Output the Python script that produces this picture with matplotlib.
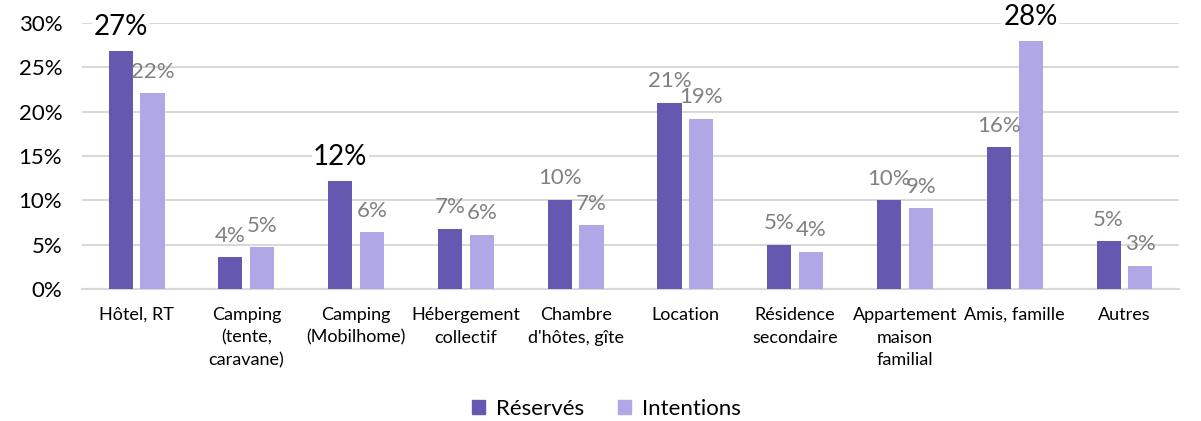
import numpy as np
import matplotlib.pyplot as plt
from matplotlib.patches import Patch

# Hébergement : réservés vs intentions
categories = ["Hôtel, RT", "Camping\n(tente,\ncaravane)", "Camping\n(Mobilhome)",
              "Hébergement\ncollectif", "Chambre\nd'hôtes, gîte", "Location",
              "Résidence\nsecondaire", "Appartement\nmaison\nfamilial",
              "Amis, famille", "Autres"]
reserves = [26.9, 3.6, 12.2, 6.8, 10.1, 21.0, 5.0, 10.0, 16.0, 5.4]
intentions = [22.1, 4.7, 6.4, 6.1, 7.2, 19.2, 4.2, 9.1, 28.0, 2.6]
yticks = [0, 5, 10, 15, 20, 25, 30]

# valeurs mises en avant (grand label noir)
highlight_res = [True, False, True, False, False, False, False, False, False, False]
highlight_int = [False, False, False, False, False, False, False, False, True, False]

C_RES = "#6558b1"
C_INT = "#b0a8e6"
GREY = "#808080"

plt.rcParams["font.family"] = ["Lato", "DejaVu Sans"]

fig = plt.figure(figsize=(12.01, 4.21), dpi=100)
ax = fig.add_axes([0.068, 0.3135, 0.914, 0.6315])

x = np.arange(len(categories))
w = 0.22
off = 0.145

ax.bar(x - off, reserves, w, color=C_RES, zorder=3)
ax.bar(x + off, intentions, w, color=C_INT, zorder=3)

def label(xpos, val, big):
    if big:
        ax.text(xpos, val + 1.2, f"{round(val)}%", ha="center", va="bottom",
                fontsize=20, color="black", zorder=5,
                bbox=dict(facecolor="white", edgecolor="none", pad=1))
    else:
        ax.text(xpos, val + 1.3, f"{round(val)}%", ha="center", va="bottom",
                fontsize=16, color=GREY, zorder=5)

for i in range(len(categories)):
    label(x[i] - off, reserves[i], highlight_res[i])
    label(x[i] + off, intentions[i], highlight_int[i])

ax.set_xlim(-0.5, len(categories) - 0.5)
ax.set_ylim(0, 30)
ax.set_yticks(yticks)
ax.set_yticklabels([f"{t}%" for t in yticks], fontsize=16)
ax.set_xticks(x)
ax.set_xticklabels(categories, fontsize=13, linespacing=1.5)
ax.tick_params(axis="both", length=0)
ax.tick_params(axis="y", pad=14)
ax.tick_params(axis="x", pad=13)

ax.grid(axis="y", color="#d9d9d9", linewidth=1.5, zorder=0)
for s in ["top", "right", "left"]:
    ax.spines[s].set_visible(False)
ax.spines["bottom"].set_color("#d9d9d9")
ax.spines["bottom"].set_linewidth(1.5)

handles = [Patch(color=C_RES, label="Réservés"), Patch(color=C_INT, label="Intentions")]
fig.legend(handles=handles, loc="center", bbox_to_anchor=(0.505, 0.028), ncol=2,
           frameon=False, fontsize=16, handlelength=0.6, handleheight=0.6,
           columnspacing=1.5, handletextpad=0.5)

fig.savefig("out.png", dpi=100)
